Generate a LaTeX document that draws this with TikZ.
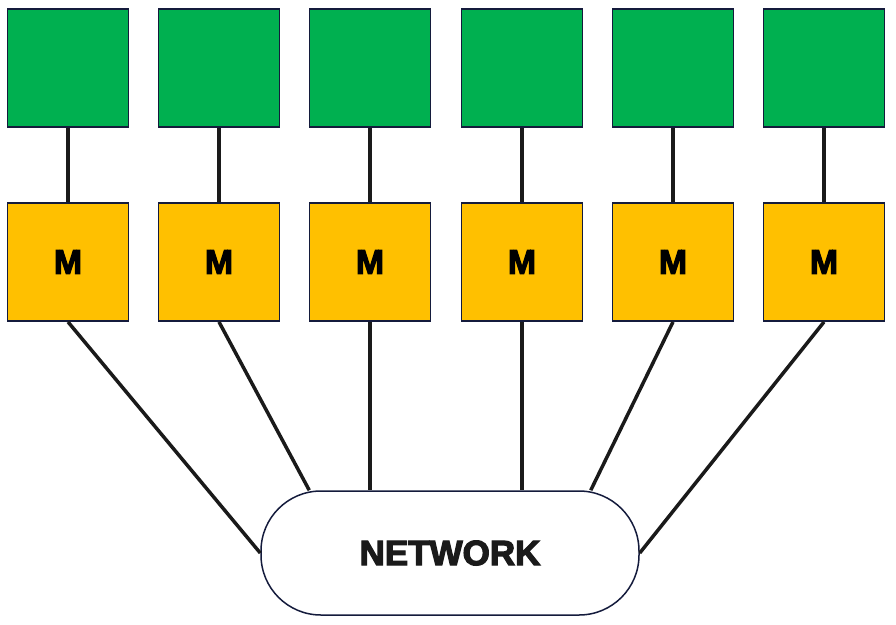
\documentclass[tikz,border=0pt]{standalone}
\usepackage{fontspec}
\setmainfont{Liberation Sans}[BoldFeatures={FakeBold=3.5}]
\usetikzlibrary{calc}
\definecolor{boxgreen}{HTML}{00B050}
\definecolor{boxyellow}{HTML}{FFC000}
\definecolor{edge}{HTML}{141B3C}
\definecolor{wire}{HTML}{1A1A1A}
\tikzset{
  greenbox/.style={draw=edge, line width=1.8pt, fill=boxgreen, minimum width=121pt, minimum height=118pt, inner sep=0pt},
  mbox/.style={draw=edge, line width=1.8pt, fill=boxyellow, minimum width=121pt, minimum height=118pt, inner sep=0pt, font=\fontsize{34}{34}\selectfont\bfseries, text=black},
  netbox/.style={draw=edge, line width=1.5pt, fill=white, rounded corners=60pt, minimum width=378pt, minimum height=124pt, inner sep=0pt, font=\fontsize{35}{35}\selectfont\bfseries, text=wire},
  wireline/.style={draw=wire, line width=3.5pt}
}
\begin{document}
\begin{tikzpicture}[x=1pt,y=-1pt]
\useasboundingbox (0,0) rectangle (896,624);
\foreach \i/\x in {1/68,2/219,3/370,4/522,5/673,6/824}{
  \node[greenbox] (g\i) at (\x,68) {};
  \node[mbox] (m\i) at (\x,262) {M};
}
\node[netbox] (net) at (450,553) {NETWORK};
\coordinate (n2) at ($(net.north west)+(49,0)$);
\coordinate (n5) at ($(net.north east)+(-49,0)$);
\foreach \i in {1,...,6}{
  \draw[wireline] (g\i.south) -- (m\i.north);
}
\draw[wireline] (m1.south) -- (net.west);
\draw[wireline] (m2.south) -- (n2);
\draw[wireline] (m3.south) -- (m3.south |- net.north);
\draw[wireline] (m4.south) -- (m4.south |- net.north);
\draw[wireline] (m5.south) -- (n5);
\draw[wireline] (m6.south) -- (net.east);
\end{tikzpicture}
\end{document}
